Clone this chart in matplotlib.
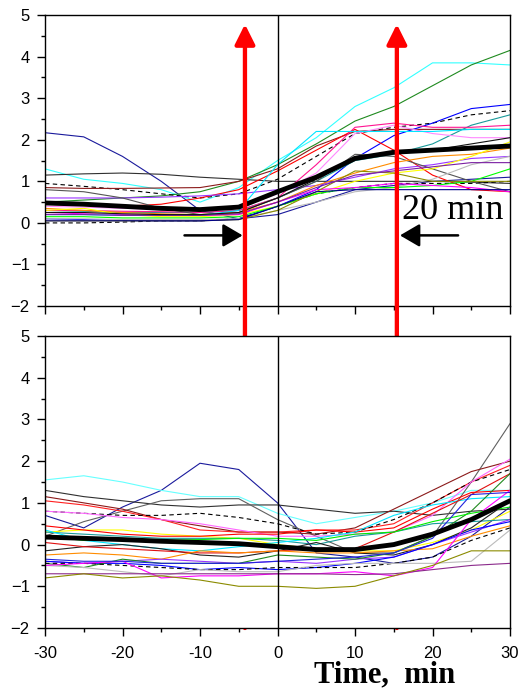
import numpy as np
import matplotlib.pyplot as plt

plt.rcParams['font.family'] = ['Liberation Sans', 'DejaVu Sans']

# time points (min)
t = [-30, -25, -20, -15, -10, -5, 0, 5, 10, 15, 20, 25, 30]

# ---- upper panel ----
up_mean     = [0.48, 0.45, 0.40, 0.35, 0.32, 0.38, 0.75, 1.10, 1.55, 1.70, 1.75, 1.80, 1.85]
up_navy     = [2.17, 2.07, 1.60, 1.00, 0.30, 0.10, 0.20, 0.50, 0.80, 0.90, 1.00, 1.05, 1.10]
up_cyan     = [1.30, 1.05, 0.95, 0.80, 0.50, 0.85, 1.50, 2.05, 2.80, 3.25, 3.85, 3.85, 3.80]
up_dgreen   = [0.50, 0.55, 0.60, 0.65, 0.75, 1.00, 1.40, 1.90, 2.45, 2.80, 3.30, 3.80, 4.15]
up_flat     = [1.15, 1.18, 1.20, 1.17, 1.10, 1.05, 1.00, 1.00, 1.00, 1.00, 1.00, 0.98, 0.95]
up_dash_hi  = [0.95, 0.88, 0.80, 0.70, 0.60, 0.70, 1.05, 1.60, 2.15, 2.30, 2.40, 2.60, 2.70]
up_dash_lo  = [0.00, 0.00, 0.02, 0.05, 0.05, 0.10, 0.40, 0.70, 0.85, 0.95, 0.95, 0.95, 1.00]
up_brown    = [0.85, 0.83, 0.83, 0.84, 0.85, 1.00, 1.30, 1.85, 2.20, 2.25, 2.25, 2.25, 2.25]
up_blue     = [0.10, 0.08, 0.06, 0.05, 0.05, 0.10, 0.40, 0.80, 1.55, 2.10, 2.40, 2.75, 2.85]
up_teal     = [0.30, 0.28, 0.25, 0.25, 0.25, 0.30, 0.60, 1.00, 1.50, 1.65, 1.90, 2.35, 2.60]
up_red      = [0.45, 0.42, 0.40, 0.45, 0.60, 0.80, 1.25, 1.75, 2.25, 1.75, 1.15, 0.80, 0.75]
up_dpink    = [0.30, 0.30, 0.28, 0.27, 0.25, 0.30, 0.60, 1.40, 2.30, 2.40, 2.30, 2.30, 2.35]
up_violet   = [0.60, 0.60, 0.60, 0.62, 0.65, 0.70, 0.80, 0.90, 1.10, 1.30, 1.40, 1.55, 1.60]
up_dgray    = [0.80, 0.75, 0.60, 0.35, 0.20, 0.25, 0.60, 1.00, 1.65, 1.60, 1.30, 1.00, 0.75]
up_lgray    = [0.10, 0.10, 0.08, 0.08, 0.08, 0.10, 0.30, 0.50, 0.75, 0.85, 1.05, 1.40, 1.60]
up_orange   = [0.35, 0.30, 0.25, 0.22, 0.20, 0.25, 0.50, 0.90, 1.20, 1.45, 1.60, 1.65, 1.80]
up_yellow   = [0.30, 0.35, 0.20, 0.15, 0.15, 0.20, 0.40, 0.70, 1.00, 1.20, 1.30, 1.60, 1.95]
up_lime     = [0.15, 0.15, 0.12, 0.12, 0.12, 0.15, 0.40, 0.70, 0.85, 0.85, 0.90, 1.00, 1.30]
up_magenta  = [0.25, 0.22, 0.20, 0.18, 0.18, 0.20, 0.50, 0.80, 0.85, 0.95, 0.90, 0.85, 0.75]
up_olive    = [0.05, 0.05, 0.05, 0.05, 0.05, 0.08, 0.30, 0.75, 1.25, 1.20, 1.00, 1.00, 1.00]
up_pink     = [0.40, 0.38, 0.35, 0.33, 0.30, 0.35, 0.70, 1.20, 2.15, 2.35, 2.15, 2.05, 2.05]
up_cyan2    = [0.20, 0.20, 0.18, 0.18, 0.18, 0.30, 1.40, 2.20, 2.20, 2.20, 2.20, 2.25, 2.25]
up_navy2    = [0.05, 0.05, 0.05, 0.05, 0.05, 0.08, 0.40, 0.75, 0.80, 0.80, 0.80, 0.80, 0.80]
up_purple   = [0.20, 0.20, 0.18, 0.18, 0.18, 0.22, 0.50, 0.85, 1.15, 1.25, 1.35, 1.45, 1.45]
up_black    = [0.25, 0.25, 0.22, 0.20, 0.20, 0.25, 0.60, 1.05, 1.60, 1.70, 1.75, 1.90, 2.05]

# ---- lower panel ----
lo_mean     = [0.18, 0.15, 0.12, 0.08, 0.05, 0.02, -0.05, -0.12, -0.12, 0.00, 0.25, 0.60, 1.05]
lo_navy     = [0.70, 0.40, 0.90, 1.30, 1.95, 1.80, 1.00, -0.20, -0.30, -0.45, -0.30, 0.20, 0.90]
lo_cyan     = [1.55, 1.65, 1.50, 1.30, 1.15, 1.15, 0.75, 0.50, 0.65, 0.80, 1.00, 1.30, 1.30]
lo_flat     = [1.30, 1.15, 1.05, 0.95, 0.90, 0.95, 0.95, 0.85, 0.75, 0.80, 0.70, 0.80, 0.85]
lo_dgray    = [0.20, 0.55, 0.80, 1.05, 1.10, 1.10, 0.60, 0.20, -0.20, -0.20, 0.20, 1.50, 2.90]
lo_brown    = [1.15, 1.00, 0.85, 0.60, 0.45, 0.30, 0.30, 0.25, 0.40, 0.85, 1.30, 1.75, 2.00]
lo_red      = [1.05, 0.95, 0.80, 0.60, 0.35, 0.30, 0.30, 0.35, 0.35, 0.50, 1.00, 1.50, 1.90]
lo_dash_hi  = [0.80, 0.75, 0.70, 0.70, 0.75, 0.65, 0.50, 0.25, 0.30, 0.60, 1.00, 1.50, 1.80]
lo_pink     = [0.80, 0.75, 0.65, 0.60, 0.50, 0.35, 0.20, 0.20, 0.25, 0.30, 0.70, 1.50, 2.05]
lo_yellow   = [0.30, 0.35, 0.35, 0.25, 0.20, 0.15, 0.00, -0.10, -0.15, -0.15, 0.05, 0.35, 0.80]
lo_red2     = [0.45, 0.35, 0.25, 0.20, 0.20, 0.25, 0.25, 0.35, 0.30, 0.40, 0.85, 1.25, 1.30]
lo_teal     = [0.30, 0.25, 0.20, 0.15, 0.15, 0.15, 0.10, 0.00, 0.20, 0.30, 0.50, 0.55, 0.60]
lo_cyan2    = [0.35, 0.10, 0.00, -0.10, -0.15, -0.05, 0.05, 0.15, 0.30, 0.70, 0.95, 1.10, 1.15]
lo_black    = [-0.15, -0.05, 0.00, -0.10, -0.25, -0.30, -0.15, 0.05, -0.20, -0.25, 0.00, 0.40, 1.05]
lo_red3     = [0.05, -0.05, -0.10, -0.15, -0.20, -0.20, -0.15, -0.10, -0.10, 0.30, 0.75, 1.20, 1.70]
lo_orange   = [-0.25, -0.20, -0.25, -0.35, -0.15, -0.20, -0.15, -0.20, -0.20, -0.15, -0.10, 0.20, 0.45]
lo_purple   = [-0.40, -0.45, -0.40, -0.35, -0.40, -0.45, -0.40, -0.45, -0.35, -0.30, 0.00, 0.30, 0.60]
lo_blue     = [-0.40, -0.45, -0.45, -0.50, -0.60, -0.55, -0.60, -0.55, -0.45, -0.30, 0.00, 0.35, 0.55]
lo_green    = [-0.45, -0.55, -0.35, -0.45, -0.45, -0.45, -0.25, -0.30, -0.35, -0.20, 0.20, 0.80, 1.70]
lo_dash_lo  = [-0.45, -0.45, -0.50, -0.55, -0.60, -0.60, -0.55, -0.55, -0.55, -0.45, -0.30, 0.10, 0.40]
lo_lgray    = [-0.50, -0.55, -0.65, -0.75, -0.60, -0.65, -0.65, -0.50, -0.45, -0.45, -0.45, -0.40, 0.35]
lo_magenta  = [-0.50, -0.45, -0.40, -0.80, -0.75, -0.75, -0.70, -0.70, -0.65, -0.75, -0.55, 0.60, 1.30]
lo_violet   = [-0.70, -0.70, -0.70, -0.70, -0.70, -0.70, -0.70, -0.70, -0.72, -0.70, -0.60, -0.50, -0.45]
lo_olive    = [-0.80, -0.70, -0.80, -0.75, -0.85, -1.00, -1.00, -1.05, -1.00, -0.75, -0.50, -0.15, -0.15]
lo_lime     = [0.20, 0.10, 0.10, 0.10, 0.12, 0.15, 0.15, 0.10, 0.25, 0.30, 0.55, 0.75, 0.90]
lo_blue2    = [-0.35, -0.40, -0.40, -0.45, -0.45, -0.45, -0.40, -0.35, -0.30, -0.20, 0.15, 1.20, 1.25]

upper = [
    (up_navy, '#1a1a9c', '-'), (up_cyan, '#33ffff', '-'), (up_dgreen, '#1f8a1f', '-'),
    (up_flat, '#303030', '-'), (up_dash_hi, 'black', '--'), (up_dash_lo, 'black', '--'),
    (up_brown, '#8b1a1a', '-'), (up_blue, '#0000ff', '-'), (up_teal, '#199a9a', '-'),
    (up_red, '#ff0000', '-'), (up_dpink, '#ff1493', '-'), (up_violet, '#9933ff', '-'),
    (up_dgray, '#555555', '-'), (up_lgray, '#bbbbbb', '-'), (up_orange, '#ff8c00', '-'),
    (up_yellow, '#ffff00', '-'), (up_lime, '#00ff00', '-'), (up_magenta, '#ff00ff', '-'),
    (up_olive, '#8b8b00', '-'), (up_pink, '#ff88ff', '-'), (up_cyan2, '#00e5ff', '-'),
    (up_navy2, '#00008b', '-'), (up_purple, '#7a1fa2', '-'), (up_black, '#111111', '-'),
]
lower = [
    (lo_navy, '#1a1a9c', '-'), (lo_cyan, '#66ffff', '-'), (lo_flat, '#303030', '-'),
    (lo_dgray, '#606060', '-'), (lo_brown, '#8b1a1a', '-'), (lo_red, '#ff2020', '-'),
    (lo_dash_hi, 'black', '--'), (lo_pink, '#ff66ff', '-'), (lo_yellow, '#ffff00', '-'),
    (lo_red2, '#ff0000', '-'), (lo_teal, '#199a9a', '-'), (lo_cyan2, '#00e5ff', '-'),
    (lo_black, '#222222', '-'), (lo_red3, '#e01010', '-'), (lo_orange, '#ff8c00', '-'),
    (lo_purple, '#9933ff', '-'), (lo_blue, '#0000ff', '-'), (lo_green, '#1f8a1f', '-'),
    (lo_dash_lo, 'black', '--'), (lo_lgray, '#bbbbbb', '-'), (lo_magenta, '#ff00ff', '-'),
    (lo_violet, '#8b2a8b', '-'), (lo_olive, '#8b8b00', '-'), (lo_lime, '#00ee00', '-'),
    (lo_blue2, '#2222dd', '-'),
]

arrow_x = [-4.2, 15.4]

fig = plt.figure(figsize=(5.19, 6.94), dpi=100)
ax1 = fig.add_axes([0.0867, 0.559, 0.896, 0.4193])
ax2 = fig.add_axes([0.0867, 0.0951, 0.896, 0.4207])

for ax, series, mean in [(ax1, upper, up_mean), (ax2, lower, lo_mean)]:
    for vals, c, ls in series:
        ax.plot(t, vals, color=c, ls=ls, lw=0.8, dashes=(4, 3) if ls == '--' else (None, None))
    ax.plot(t, mean, color='black', lw=3.5, solid_capstyle='round')
    ax.axvline(0, color='black', lw=1)
    ax.set_xlim(-30, 30)
    ax.set_ylim(-2, 5)
    ax.set_xticks(range(-30, 31, 10))
    ax.set_xticks(range(-25, 30, 10), minor=True)
    ax.set_yticks(range(-2, 6))
    ax.set_yticks(np.arange(-1.5, 5, 1), minor=True)
    ax.tick_params(which='major', direction='out', length=6, width=1, labelsize=12)
    ax.tick_params(which='minor', direction='out', length=3, width=1)
    ax.tick_params(axis='y', pad=5)
    ax.tick_params(axis='x', pad=7)
    for s in ax.spines.values():
        s.set_linewidth(1)

ax1.tick_params(labelbottom=False)
ax2.set_xticklabels(['-30', '-20', '-10', '0', '10', '20', '30'])
fig.text(0.742, 0.016, 'Time,  min', family='Liberation Serif', weight='bold',
         fontsize=22, ha='center', va='baseline')

# red arrows spanning both panels
for x in arrow_x:
    ax1.annotate('', xy=(x, 4.78), xycoords='data', xytext=(x, -2), textcoords=ax2.transData,
                 arrowprops=dict(arrowstyle='-|>,head_length=0.6,head_width=0.3', color='#ff0000',
                                 lw=3.1, shrinkA=0, shrinkB=0, mutation_scale=20),
                 annotation_clip=False, zorder=10)

# black arrows and label
ax1.annotate('', xy=(-4.5, -0.3), xytext=(-12, -0.3),
             arrowprops=dict(arrowstyle='-|>,head_length=0.6,head_width=0.35', color='black',
                             lw=1.8, shrinkA=0, shrinkB=0, mutation_scale=20))
ax1.annotate('', xy=(15.8, -0.3), xytext=(23.3, -0.3),
             arrowprops=dict(arrowstyle='-|>,head_length=0.6,head_width=0.35', color='black',
                             lw=1.8, shrinkA=0, shrinkB=0, mutation_scale=20))
ax1.text(16.0, 0.3, '20 min', family='Liberation Serif', fontsize=26, ha='left', va='center')

fig.savefig('out.png', dpi=100)
